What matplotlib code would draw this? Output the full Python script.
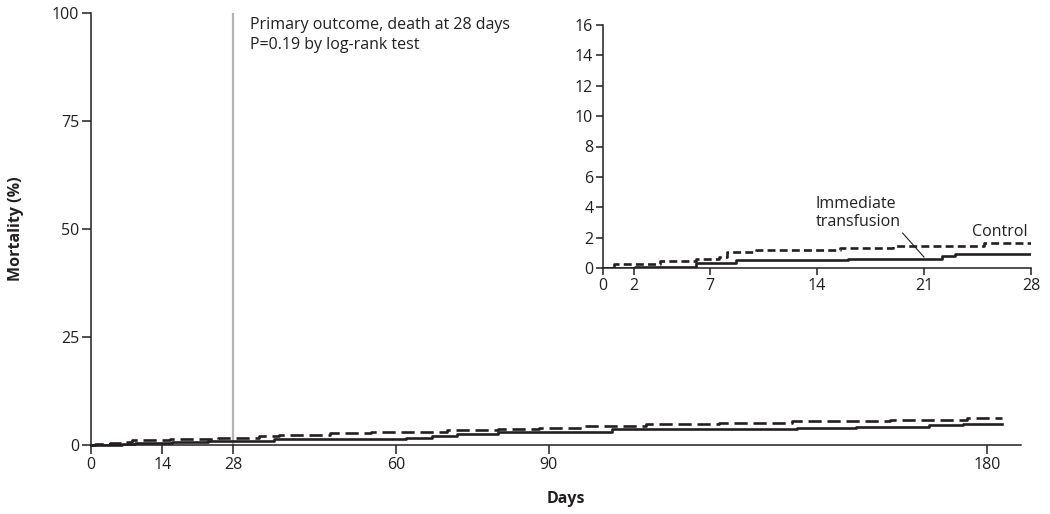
import numpy as np
import matplotlib
matplotlib.use("Agg")
import matplotlib.pyplot as plt

plt.rcParams['font.family'] = ['Open Sans', 'DejaVu Sans']

# --- data ---
# step curves: day of each step, cumulative mortality (%) after it
control_days = [0, 0.7, 3.7, 6.1, 7.6, 8.1, 10, 15.5, 19, 24.9, 33, 37, 47, 55, 70, 80, 88,
                97, 110, 125, 140, 160, 168, 176, 183]
control_pct = [0, 0.26, 0.45, 0.62, 0.75, 1.07, 1.18, 1.29, 1.42, 1.66, 2.0, 2.3, 2.85, 3.1, 3.5, 3.8, 4.0,
               4.5, 4.8, 5.2, 5.5, 5.7, 5.9, 6.3, 6.3]
immediate_days = [0, 2.1, 6.1, 8.7, 16, 22.2, 23, 36, 50, 62, 67, 72, 80, 90, 103, 141, 153,
                  168, 175, 183]
immediate_pct = [0, 0.09, 0.34, 0.52, 0.62, 0.8, 0.92, 1.3, 1.4, 1.6, 2.0, 2.5, 2.9, 3.1, 3.6, 4.0, 4.2,
                 4.6, 4.8, 4.8]

main_xticks = [0, 14, 28, 60, 90, 180]
main_yticks = [0, 25, 50, 75, 100]
inset_xticks = [0, 2, 7, 14, 21, 28]
inset_yticks = list(range(0, 17, 2))

INK = '#231f20'
FS = 11.5
LW = 1.9

# x axis of the main panel is a bit compressed after day 90
_src = [0, 90, 300]
_dst = [0, 90, 90 + 210 * 4.87 / 5.09]
def fwd(x):
    return np.interp(x, _src, _dst)
def inv(x):
    return np.interp(x, _dst, _src)

fig = plt.figure(figsize=(10.5, 5.14), dpi=100)

ax = fig.add_axes([91 / 1050, 1 - 445 / 514, 930 / 1050, 432 / 514])
ax.set_xscale('function', functions=(fwd, inv))
ax.plot(control_days, control_pct, drawstyle='steps-post', color=INK, lw=LW,
        dashes=(5, 2.2), clip_on=False)
ax.plot(immediate_days, immediate_pct, drawstyle='steps-post', color=INK, lw=LW, clip_on=False)
ax.axvline(28, ymin=0, ymax=1, color='#b3b3b3', lw=1.6, zorder=0)
ax.text(31.2, 99, 'Primary outcome, death at 28 days\nP=0.19 by log-rank test',
        fontsize=FS, color=INK, va='top', ha='left', linespacing=1.3)

ax.set_xlim(0, 187)
ax.set_ylim(0, 100)
ax.set_xticks(main_xticks)
ax.set_yticks(main_yticks)
for s in ['top', 'right']:
    ax.spines[s].set_visible(False)
for s in ['left', 'bottom']:
    ax.spines[s].set_color(INK)
    ax.spines[s].set_linewidth(1.1)
ax.tick_params(length=6.5, width=1.1, color=INK, labelcolor=INK, labelsize=FS, pad=2)
ax.set_xlabel('Days', fontsize=FS, fontweight='bold', color=INK)
ax.xaxis.set_label_coords((566 - 91) / 930, -(491 - 445) / 432)
ax.set_ylabel('Mortality (%)', fontsize=FS, fontweight='bold', color=INK)
ax.yaxis.set_label_coords(-(91 - 24) / 930, 0.5)

# --- inset: first 28 days ---
ins = fig.add_axes([603 / 1050, 1 - 268 / 514, 428 / 1050, 243 / 514])
ins.plot(control_days, control_pct, drawstyle='steps-post', color=INK, lw=LW,
         dashes=(3, 1.6))
ins.plot(immediate_days, immediate_pct, drawstyle='steps-post', color=INK, lw=LW)
ins.set_xlim(0, 28)
ins.set_ylim(0, 16)
ins.set_xticks(inset_xticks)
ins.set_yticks(inset_yticks)
ins.patch.set_alpha(0)
for s in ['top', 'right']:
    ins.spines[s].set_visible(False)
for s in ['left', 'bottom']:
    ins.spines[s].set_color(INK)
    ins.spines[s].set_linewidth(1.1)
ins.tick_params(length=5, width=1.1, color=INK, labelcolor=INK, labelsize=FS, pad=2)

ins.text(13.9, 4.75, 'Immediate\ntransfusion', fontsize=FS, color=INK,
         va='top', ha='left', linespacing=1.15)
ins.plot([19.6, 21.0], [2.3, 0.72], color=INK, lw=0.8)
ins.text(27.8, 2.35, 'Control', fontsize=FS, color=INK, va='center', ha='right')

fig.savefig('out.png', dpi=100)
